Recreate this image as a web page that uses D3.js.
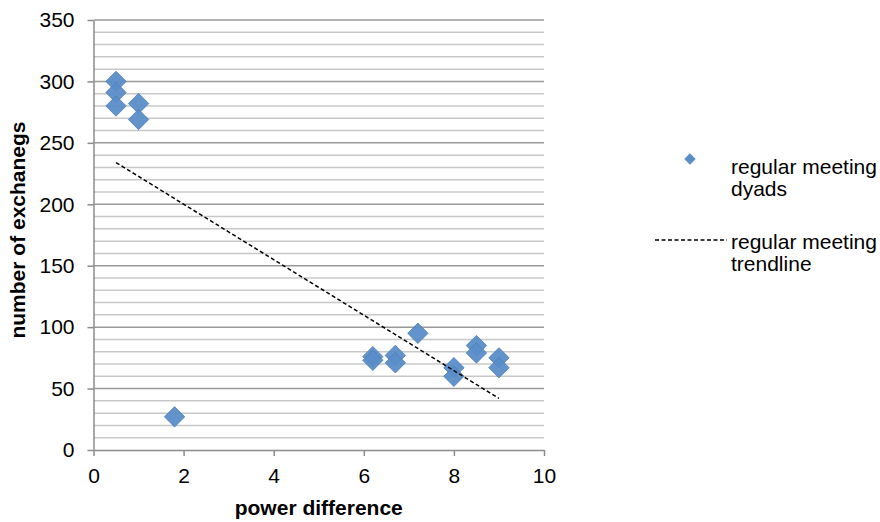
<!DOCTYPE html>
<html><head><meta charset="utf-8">
<script src="https://cdn.jsdelivr.net/npm/d3@7"></script>
<style>body{margin:0;background:#fff}svg{display:block}text{font-family:"Liberation Sans",Arial,sans-serif}</style>
</head><body><svg id="c" width="880" height="522"></svg>
<script>
const xVals = [0.5,0.5,0.5,1,1,1.8,6.2,6.2,6.7,6.7,7.2,8,8,8.5,8.5,9,9];
const yVals = [300,291,280,282,269,27,76,73,77,71,95,67,60,85,79,75,67];
const trendX = [0.5,9];
const trendY = [234,42];
const xTicks = [0,2,4,6,8,10];
const yTicks = [0,50,100,150,200,250,300,350];
const legendLabels = [["regular meeting","dyads"],["regular meeting","trendline"]];

const svg = d3.select("#c");
const L=93.5,R=544,T=20,B=450;
const FS=21;
const x = d3.scaleLinear().domain([0,10]).range([L,R]);
const y = d3.scaleLinear().domain([0,350]).range([B,T]);

// minor grid
svg.append("g").selectAll("line").data(d3.range(10,350,10).filter(v=>v%50)).join("line")
  .attr("x1",L).attr("x2",R).attr("y1",d=>y(d)).attr("y2",d=>y(d))
  .attr("stroke","#c8c8c8").attr("stroke-width",1.5);
// major grid
svg.append("g").selectAll("line").data(yTicks.filter(v=>v>0)).join("line")
  .attr("x1",L).attr("x2",R).attr("y1",d=>y(d)).attr("y2",d=>y(d))
  .attr("stroke","#9a9a9a").attr("stroke-width",1.5);

const yAxis = svg.append("g").attr("transform",`translate(${L},0)`)
  .call(d3.axisLeft(y).tickValues(yTicks).tickSize(6).tickSizeOuter(0).tickPadding(13));
const xAxis = svg.append("g").attr("transform",`translate(0,${B})`)
  .call(d3.axisBottom(x).tickValues(xTicks).tickSize(6).tickSizeOuter(0).tickPadding(12));
[yAxis,xAxis].forEach(a=>{
  a.select(".domain").attr("stroke","#8c8c8c").attr("stroke-width",1.5);
  a.selectAll(".tick line").attr("stroke","#8c8c8c").attr("stroke-width",1.5);
  a.selectAll("text").attr("font-size",FS).attr("fill","#000").attr("font-family","Liberation Sans, Arial, sans-serif");
});

const pts = xVals.map((v,i)=>[v,yVals[i]]);
svg.append("g").selectAll("rect").data(pts).join("rect")
  .attr("x",-7.2).attr("y",-7.2).attr("width",14.4).attr("height",14.4)
  .attr("transform",d=>`translate(${x(d[0])},${y(d[1])}) rotate(45)`)
  .attr("fill","#5a8dc8").attr("stroke","#4f7fb9").attr("stroke-width",0.8).attr("fill-opacity",0.95);

svg.append("line")
  .attr("x1",x(trendX[0])).attr("y1",y(trendY[0])).attr("x2",x(trendX[1])).attr("y2",y(trendY[1]))
  .attr("stroke","#000").attr("stroke-width",1.5).attr("stroke-dasharray","4,2.5");

// axis titles
svg.append("text").attr("x",(L+R)/2).attr("y",515).attr("text-anchor","middle")
  .attr("font-size",FS).attr("font-weight","bold").text("power difference");
svg.append("text").attr("transform",`translate(25,230) rotate(-90)`).attr("text-anchor","middle")
  .attr("font-size",FS).attr("font-weight","bold").text("number of exchanegs");

// legend
const lg = svg.append("g");
lg.append("rect").attr("x",-4).attr("y",-4).attr("width",8).attr("height",8)
  .attr("transform","translate(690,159) rotate(45)").attr("fill","#5a8dc8");
lg.append("line").attr("x1",655).attr("x2",727).attr("y1",240).attr("y2",240)
  .attr("stroke","#000").attr("stroke-width",1.5).attr("stroke-dasharray","4,2.5");
const ly=[174,249];
legendLabels.forEach((ls,i)=>{
  ls.forEach((t,j)=>{
    lg.append("text").attr("x",731).attr("y",ly[i]+j*22).attr("font-size",FS).text(t);
  });
});
</script></body></html>
